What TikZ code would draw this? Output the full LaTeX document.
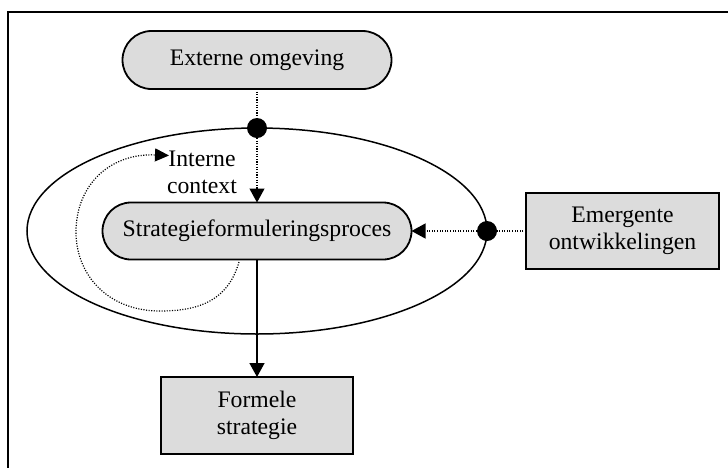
\documentclass[tikz,border=0pt]{standalone}
\usepackage{fontspec}
\setmainfont{Liberation Serif}
\usetikzlibrary{arrows.meta,shapes.geometric}
\definecolor{boxgray}{HTML}{DCDCDC}
\newcommand\diagfont{\fontsize{23.7}{27.3}\selectfont}
\begin{document}
\begin{tikzpicture}[x=1pt,y=-1pt,
  box/.style={draw=black,line width=1.8pt,fill=boxgray,inner sep=0pt,
    outer sep=0pt,align=center,font=\diagfont},
  pill/.style={box,rounded corners=#1},
  dotline/.style={line width=1.2pt,dash pattern=on 1.1pt off 1.5pt},
  solidline/.style={line width=1.5pt},
  tip/.style={-{Triangle[length=14pt,width=15pt]}},
  smalltip/.style={-{Triangle[length=14pt,width=13pt]}},
  junction/.style={circle,fill=black,minimum size=20pt,inner sep=0pt,outer sep=0pt}]

\useasboundingbox (0,0) rectangle (728,467);

% outer frame (top and left edges)
\draw[line width=2pt] (7.5,475) -- (7.5,12) -- (735,12);

% internal context ellipse
\node[draw,ellipse,line width=1.5pt,minimum width=460pt,minimum height=206pt,
      inner sep=0pt,outer sep=0pt] (ctx) at (257,231) {};

% boxes
\node[pill=29pt,minimum width=269pt,minimum height=58pt] (ext) at (257,60) {Externe omgeving};
\node[pill=28.5pt,minimum width=309pt,minimum height=57pt] (strat) at (257,231) {Strategieformuleringsproces};
\node[box,minimum width=193pt,minimum height=76pt] (emg) at (622.5,231) {Emergente\\ontwikkelingen};
\node[box,minimum width=192pt,minimum height=77pt] (form) at (257,415.5) {Formele\\strategie};

% label of the internal context
\node[font=\diagfont,align=center,inner sep=0pt] (ictx) at (202,172) {Interne\\context};

% junction dots on the ellipse
\node[junction] (dtop) at (ctx.north) {};
\node[junction] (dright) at (ctx.east) {};

% connectors
\draw[dotline] (ext.south) -- (dtop);
\draw[dotline,tip] (dtop) -- (strat.north);
\draw[dotline] (emg.west) -- (dright);
\draw[dotline,tip] (dright) -- (strat.east);
\draw[solidline,tip] (strat.south) -- (form.north);

% feedback loop from the process back to the internal context
\coordinate (loopstart) at (239,262);
\coordinate (loopend) at (169,155.5);
\draw[dotline,smalltip] (loopstart)
  .. controls (228,300) and (200,311) .. (160,311)
  .. controls (108,311) and (76,275) .. (76,232)
  .. controls (76,185) and (110,153) .. (loopend);
\end{tikzpicture}
\end{document}
